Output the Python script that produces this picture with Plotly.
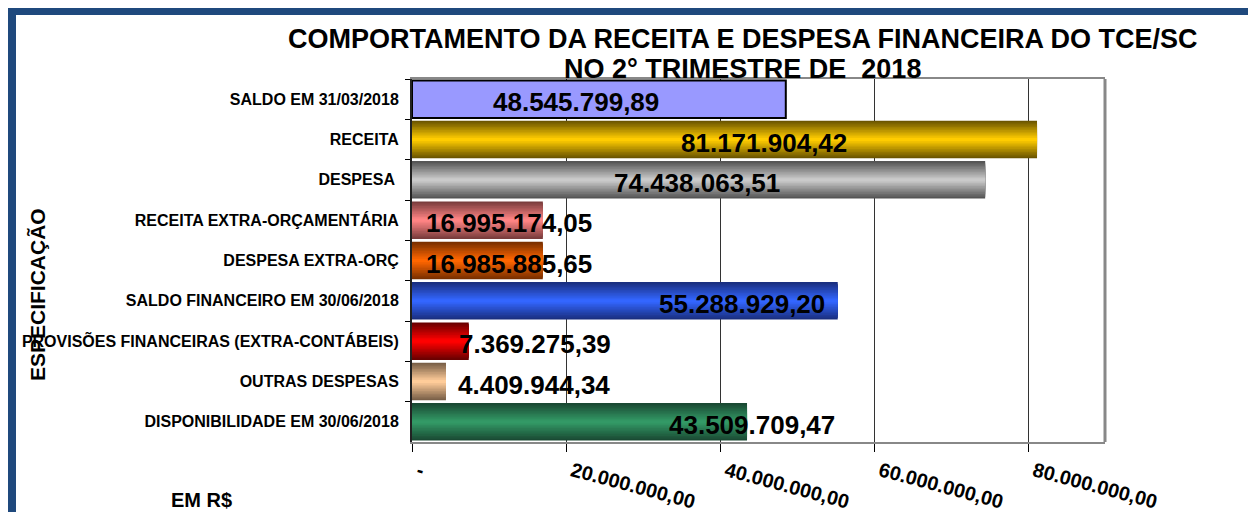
import plotly.graph_objects as go

# ---------------- data ----------------
categories = [
    "SALDO EM 31/03/2018",
    "RECEITA",
    "DESPESA ",
    "RECEITA EXTRA-ORÇAMENTÁRIA",
    "DESPESA EXTRA-ORÇ",
    "SALDO FINANCEIRO EM 30/06/2018",
    "PROVISÕES FINANCEIRAS (EXTRA-CONTÁBEIS)",
    "OUTRAS DESPESAS",
    "DISPONIBILIDADE EM 30/06/2018",
]
values = [48545799.89, 81171904.42, 74438063.51, 16995174.05, 16985885.65,
          55288929.20, 7369275.39, 4409944.34, 43509709.47]
value_labels = ["48.545.799,89", "81.171.904,42", "74.438.063,51", "16.995.174,05",
                "16.985.885,65", "55.288.929,20", "7.369.275,39", "4.409.944,34",
                "43.509.709,47"]
x_tickvals = [0, 20000000, 40000000, 60000000, 80000000]
x_ticktext = ["-", "20.000.000,00", "40.000.000,00", "60.000.000,00", "80.000.000,00"]
title_line1 = "COMPORTAMENTO DA RECEITA E DESPESA FINANCEIRA DO TCE/SC"
title_line2 = "NO 2° TRIMESTRE DE  2018"

# ---------------- style ----------------
center_colors = ["#9999FF", "#FFCC00", "#CACACA", "#FF8484", "#FF6600",
                 "#3366FF", "#FF0000", "#FFCC99", "#339966"]
edge_colors = ["#9999FF", "#6B5500", "#555555", "#7A3D3D", "#7A3000",
               "#1A2F80", "#6B0000", "#7A6048", "#1A4A33"]
label_xshift = [-210, -273, -288, -34, -34, -96, 66, 88, 5]
FONT = "Liberation Sans, Arial, sans-serif"
BAR_W = 0.93
N_LAYERS = 12
# plot area in page pixels (page has an 8px body margin)
PX_L, PX_R, PX_T, PX_B = 412, 1105, 79, 442
PW, PH = PX_R - PX_L, PX_B - PX_T


def px_x(p):
    return (p - PX_L) / PW


def px_y(p):
    return (PX_B - p) / PH


def hex2rgb(h):
    h = h.lstrip("#")
    return tuple(int(h[i:i + 2], 16) for i in (0, 2, 4))


def lerp(c1, c2, t):
    a, b = hex2rgb(c1), hex2rgb(c2)
    return "rgb({},{},{})".format(*[round(a[i] + (b[i] - a[i]) * t) for i in range(3)])


fig = go.Figure()
for k in range(N_LAYERS):
    t = k / (N_LAYERS - 1)
    cols = []
    for i in range(len(values)):
        if i == 0 and k > 0:
            cols.append("rgba(0,0,0,0)")
        else:
            cols.append(lerp(edge_colors[i], center_colors[i], t))
    lw = [2 if (i == 0 and k == 0) else 0 for i in range(len(values))]
    fig.add_trace(go.Bar(
        y=categories, x=values, orientation="h",
        width=BAR_W * (1 - k / N_LAYERS),
        marker=dict(color=cols, line=dict(color="black", width=lw)),
        showlegend=False, hoverinfo="skip" if k else "x+y",
    ))

for i in range(len(values)):
    fig.add_annotation(x=values[i], y=categories[i], text="<b>%s</b>" % value_labels[i],
                       showarrow=False, xanchor="center", yanchor="middle",
                       xshift=label_xshift[i], yshift=-3,
                       font=dict(family=FONT, size=26, color="black"))

fig.add_annotation(xref="paper", yref="paper", x=px_x(743), y=px_y(38.5),
                   text="<b>%s</b>" % title_line1, showarrow=False,
                   xanchor="center", yanchor="middle",
                   font=dict(family=FONT, size=27, color="black"))
fig.add_annotation(xref="paper", yref="paper", x=px_x(742), y=px_y(69),
                   text="<b>%s</b>" % title_line2, showarrow=False,
                   xanchor="center", yanchor="middle",
                   font=dict(family=FONT, size=27, color="black"))
fig.add_annotation(xref="paper", yref="paper", x=px_x(37), y=px_y(295),
                   text="<b>ESPECIFICAÇÃO</b>", showarrow=False, textangle=-90,
                   xanchor="center", yanchor="middle",
                   font=dict(family=FONT, size=21, color="black"))
fig.add_annotation(xref="paper", yref="paper", x=px_x(201), y=px_y(500),
                   text="<b>EM R$</b>", showarrow=False,
                   xanchor="center", yanchor="middle",
                   font=dict(family=FONT, size=20, color="black"))

fig.update_layout(
    width=1256, height=512,
    margin=dict(l=PX_L - 8, r=1256 - (PX_R - 8), t=PX_T - 8, b=512 - (PX_B - 8)),
    paper_bgcolor="white", plot_bgcolor="white",
    barmode="overlay",
    showlegend=False,
)

fig.update_xaxes(
    range=[0, 90000000], tickvals=x_tickvals, ticktext=x_ticktext,
    tickangle=15, tickfont=dict(family=FONT, size=20, color="black", weight="bold"),
    showgrid=True, gridcolor="#333333", gridwidth=1, zeroline=False,
    ticks="outside", ticklen=8, tickcolor="black",
    showline=True, linecolor="#888888", linewidth=2, mirror=True,
    ticklabelstandoff=0, ticklabelshift=6, fixedrange=True, automargin=False,
)
fig.update_yaxes(
    autorange="reversed", tickson="boundaries", ticks="outside", ticklen=5,
    tickcolor="black", tickfont=dict(family=FONT, size=16, color="black", weight="bold"),
    showline=True, linecolor="#222222", linewidth=2,
    showgrid=False, ticklabelstandoff=8, fixedrange=True, automargin=False,
)
# right border of the plot area
fig.add_shape(type="line", xref="paper", yref="paper", x0=1, x1=1, y0=0, y1=1,
              line=dict(color="#888888", width=3))
# outer dark-blue frame
fig.add_shape(type="rect", xref="paper", yref="paper",
              x0=px_x(12), x1=px_x(1400), y0=px_y(700), y1=px_y(11),
              line=dict(color="#1F497D", width=8))

fig.write_html("out.html")
